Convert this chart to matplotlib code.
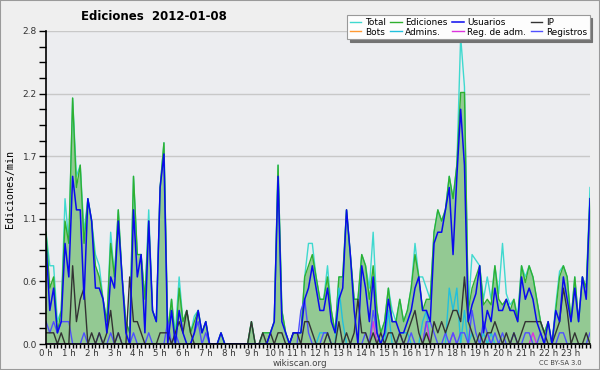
import numpy as np
import matplotlib
matplotlib.use("Agg")
import matplotlib.pyplot as plt
from matplotlib.patches import Rectangle
from matplotlib.ticker import FixedLocator, MultipleLocator

# 10-minute buckets over the day, edits per minute
hour_labels = ["%d h" % h for h in range(24)]

total = [1.0, 0.7, 0.7, 0.2, 0.3, 1.3, 0.9, 2.2, 1.5, 1.6, 1.0, 1.3,
         1.1, 0.8, 0.7, 0.4, 0.2, 1.0, 0.6, 1.2, 0.6, 0.2, 0.1, 1.5,
         0.8, 0.8, 0.4, 1.2, 0.3, 0.2, 1.4, 1.8, 0.1, 0.4, 0.1, 0.6,
         0.2, 0.3, 0.1, 0.25, 0.3, 0.1, 0.2, 0.0, 0.0, 0.0, 0.1, 0.0,
         0.0, 0.0, 0.0, 0.0, 0.0, 0.0, 0.2, 0.0, 0.0, 0.1, 0.1, 0.1,
         0.2, 1.6, 0.3, 0.1, 0.0, 0.1, 0.1, 0.1, 0.6, 0.9, 0.9, 0.6,
         0.4, 0.4, 0.7, 0.3, 0.1, 0.6, 0.6, 1.2, 0.8, 0.4, 0.4, 0.8,
         0.7, 0.5, 1.0, 0.3, 0.1, 0.2, 0.5, 0.3, 0.2, 0.4, 0.2, 0.3,
         0.5, 0.9, 0.6, 0.6, 0.5, 0.4, 1.0, 1.2, 1.1, 1.2, 1.5, 1.3,
         1.6, 2.75, 2.3, 0.3, 0.8, 0.75, 0.7, 0.4, 0.6, 0.4, 0.7, 0.45,
         0.9, 0.45, 0.35, 0.4, 0.25, 0.7, 0.6, 0.7, 0.6, 0.4, 0.2, 0.1,
         0.2, 0.0, 0.35, 0.65, 0.7, 0.6, 0.2, 0.6, 0.2, 0.6, 0.5, 1.4]

ediciones = [1.0, 0.5, 0.6, 0.1, 0.3, 1.1, 0.9, 2.2, 1.4, 1.6, 0.9, 1.3,
             1.1, 0.7, 0.6, 0.4, 0.2, 0.9, 0.6, 1.2, 0.6, 0.2, 0.1, 1.5,
             0.8, 0.8, 0.4, 1.1, 0.3, 0.2, 1.4, 1.8, 0.1, 0.4, 0.0, 0.5,
             0.2, 0.3, 0.1, 0.2, 0.3, 0.1, 0.2, 0.0, 0.0, 0.0, 0.1, 0.0,
             0.0, 0.0, 0.0, 0.0, 0.0, 0.0, 0.2, 0.0, 0.0, 0.1, 0.1, 0.1,
             0.2, 1.6, 0.3, 0.1, 0.0, 0.1, 0.1, 0.1, 0.6, 0.7, 0.8, 0.6,
             0.4, 0.4, 0.6, 0.3, 0.1, 0.6, 0.6, 1.2, 0.8, 0.4, 0.4, 0.8,
             0.7, 0.4, 0.7, 0.3, 0.1, 0.2, 0.5, 0.2, 0.2, 0.4, 0.2, 0.3,
             0.5, 0.8, 0.6, 0.3, 0.4, 0.4, 1.0, 1.2, 1.1, 1.2, 1.5, 1.3,
             1.6, 2.25, 2.25, 0.3, 0.5, 0.6, 0.7, 0.35, 0.4, 0.35, 0.7, 0.4,
             0.35, 0.4, 0.3, 0.4, 0.2, 0.7, 0.55, 0.7, 0.6, 0.4, 0.2, 0.1,
             0.2, 0.0, 0.3, 0.6, 0.7, 0.6, 0.2, 0.6, 0.2, 0.6, 0.5, 1.3]

usuarios = [0.9, 0.3, 0.5, 0.1, 0.2, 0.9, 0.6, 1.5, 1.2, 1.2, 0.4, 1.3,
            1.1, 0.5, 0.5, 0.4, 0.1, 0.6, 0.5, 1.1, 0.6, 0.1, 0.0, 1.2,
            0.6, 0.8, 0.1, 1.1, 0.3, 0.2, 1.4, 1.7, 0.0, 0.3, 0.0, 0.3,
            0.1, 0.0, 0.0, 0.1, 0.3, 0.1, 0.2, 0.0, 0.0, 0.0, 0.1, 0.0,
            0.0, 0.0, 0.0, 0.0, 0.0, 0.0, 0.0, 0.0, 0.0, 0.0, 0.0, 0.1,
            0.2, 1.5, 0.2, 0.1, 0.0, 0.1, 0.1, 0.1, 0.4, 0.5, 0.7, 0.5,
            0.3, 0.3, 0.5, 0.2, 0.1, 0.4, 0.5, 1.2, 0.8, 0.3, 0.0, 0.7,
            0.5, 0.2, 0.6, 0.1, 0.0, 0.1, 0.4, 0.2, 0.2, 0.1, 0.1, 0.2,
            0.3, 0.5, 0.6, 0.3, 0.3, 0.2, 0.9, 1.0, 1.0, 1.2, 1.4, 0.8,
            1.5, 2.1, 1.6, 0.2, 0.35, 0.45, 0.7, 0.1, 0.3, 0.2, 0.5, 0.3,
            0.3, 0.4, 0.3, 0.3, 0.2, 0.6, 0.4, 0.5, 0.4, 0.2, 0.1, 0.0,
            0.2, 0.0, 0.3, 0.2, 0.6, 0.4, 0.2, 0.5, 0.2, 0.6, 0.4, 1.3]

ip = [0.1, 0.1, 0.1, 0.0, 0.1, 0.0, 0.0, 0.7, 0.2, 0.4, 0.5, 0.0,
      0.1, 0.0, 0.1, 0.0, 0.1, 0.3, 0.0, 0.1, 0.0, 0.0, 0.6, 0.2,
      0.2, 0.1, 0.0, 0.0, 0.0, 0.0, 0.1, 0.1, 0.1, 0.0, 0.1, 0.2,
      0.1, 0.3, 0.1, 0.0, 0.0, 0.0, 0.0, 0.0, 0.0, 0.0, 0.0, 0.0,
      0.0, 0.0, 0.0, 0.0, 0.0, 0.0, 0.2, 0.0, 0.0, 0.1, 0.0, 0.1,
      0.0, 0.1, 0.1, 0.0, 0.0, 0.1, 0.1, 0.0, 0.2, 0.2, 0.1, 0.0,
      0.0, 0.0, 0.1, 0.0, 0.0, 0.2, 0.0, 0.1, 0.0, 0.1, 0.4, 0.1,
      0.1, 0.0, 0.1, 0.0, 0.1, 0.0, 0.1, 0.1, 0.0, 0.1, 0.0, 0.1,
      0.2, 0.3, 0.1, 0.0, 0.1, 0.0, 0.2, 0.1, 0.2, 0.1, 0.2, 0.3,
      0.3, 0.2, 0.6, 0.2, 0.1, 0.0, 0.1, 0.0, 0.1, 0.1, 0.2, 0.1,
      0.0, 0.1, 0.0, 0.1, 0.0, 0.1, 0.2, 0.2, 0.2, 0.2, 0.2, 0.1,
      0.0, 0.0, 0.1, 0.2, 0.5, 0.3, 0.0, 0.1, 0.0, 0.0, 0.1, 0.0]

bots = [0.0] * 144

admins = [0.0, 0.0, 0.0, 0.0, 0.0, 0.0, 0.0, 0.0, 0.0, 0.0, 0.0, 0.0,
          0.0, 0.0, 0.0, 0.0, 0.0, 0.0, 0.0, 0.0, 0.0, 0.0, 0.0, 0.0,
          0.0, 0.0, 0.0, 0.0, 0.0, 0.0, 0.0, 0.0, 0.0, 0.0, 0.0, 0.0,
          0.0, 0.0, 0.0, 0.0, 0.0, 0.0, 0.0, 0.0, 0.0, 0.0, 0.0, 0.0,
          0.0, 0.0, 0.0, 0.0, 0.0, 0.0, 0.0, 0.0, 0.0, 0.0, 0.0, 0.0,
          0.0, 0.0, 0.0, 0.0, 0.0, 0.0, 0.0, 0.0, 0.0, 0.0, 0.0, 0.0,
          0.1, 0.1, 0.1, 0.0, 0.0, 0.5, 0.2, 0.0, 0.0, 0.0, 0.0, 0.0,
          0.0, 0.0, 0.0, 0.0, 0.0, 0.0, 0.3, 0.0, 0.0, 0.1, 0.1, 0.1,
          0.0, 0.0, 0.0, 0.2, 0.3, 0.0, 0.0, 0.0, 0.0, 0.0, 0.5, 0.3,
          0.5, 0.0, 0.3, 0.0, 0.1, 0.0, 0.0, 0.1, 0.0, 0.1, 0.0, 0.0,
          0.0, 0.0, 0.0, 0.0, 0.0, 0.0, 0.0, 0.0, 0.0, 0.0, 0.0, 0.0,
          0.0, 0.0, 0.0, 0.0, 0.0, 0.0, 0.0, 0.0, 0.0, 0.0, 0.0, 0.0]

reg_adm = [0.0] * 86 + [0.2] + [0.0] * 13 + [0.2] + [0.0] * 6 + [0.1] + \
          [0.0] * 8 + [0.1] + [0.0] * 11 + [0.1] + [0.0] * 15

registros = [0.2, 0.1, 0.2, 0.1, 0.2, 0.2, 0.2, 0.0, 0.0, 0.0, 0.1, 0.0,
             0.0, 0.0, 0.1, 0.0, 0.0, 0.1, 0.0, 0.1, 0.0, 0.0, 0.0, 0.1,
             0.0, 0.0, 0.0, 0.1, 0.0, 0.0, 0.0, 0.0, 0.2, 0.0, 0.1, 0.0,
             0.0, 0.0, 0.0, 0.1, 0.2, 0.0, 0.1, 0.0, 0.0, 0.0, 0.0, 0.0,
             0.0, 0.0, 0.0, 0.0, 0.0, 0.0, 0.0, 0.0, 0.0, 0.0, 0.0, 0.0,
             0.0, 0.0, 0.0, 0.0, 0.0, 0.0, 0.0, 0.3, 0.4, 0.1, 0.0, 0.0,
             0.0, 0.1, 0.1, 0.0, 0.0, 0.0, 0.0, 0.0, 0.0, 0.0, 0.0, 0.0,
             0.1, 0.0, 0.3, 0.1, 0.0, 0.0, 0.0, 0.0, 0.0, 0.1, 0.0, 0.0,
             0.1, 0.0, 0.0, 0.0, 0.2, 0.2, 0.1, 0.0, 0.0, 0.1, 0.0, 0.1,
             0.0, 0.1, 0.1, 0.0, 0.3, 0.1, 0.0, 0.2, 0.1, 0.0, 0.1, 0.0,
             0.1, 0.0, 0.0, 0.1, 0.0, 0.0, 0.1, 0.1, 0.0, 0.0, 0.1, 0.0,
             0.0, 0.0, 0.0, 0.1, 0.1, 0.0, 0.0, 0.0, 0.0, 0.0, 0.0, 0.1]

x = np.arange(len(ediciones))

fig = plt.figure(figsize=(6, 3.7), dpi=100, facecolor='#efefef')
ax = fig.add_axes([46/600, 1 - 344/370, 544/600, 313/370])
ax.set_facecolor('#ecedf0')

# filled edits area underneath everything
ax.fill_between(x, ediciones, 0, color='#93c993', lw=0, zorder=1)

h_total, = ax.plot(x, total, color='#3fd9cf', lw=1.0, zorder=2, label='Total')
h_bots, = ax.plot(x, bots, color='#ff9933', lw=1.0, zorder=2, label='Bots')
h_edic, = ax.plot(x, ediciones, color='#2fb02f', lw=1.0, zorder=3, label='Ediciones')
h_adm, = ax.plot(x, admins, color='#22c0dd', lw=1.0, zorder=4, label='Admins.')
h_regadm, = ax.plot(x, reg_adm, color='#dd33dd', lw=1.0, zorder=4, label='Reg. de adm.')
h_reg, = ax.plot(x, registros, color='#5050ff', lw=1.0, zorder=4, label='Registros')
h_ip, = ax.plot(x, ip, color='#333333', lw=1.0, zorder=5, label='IP')
h_usu, = ax.plot(x, usuarios, color='#0a0aee', lw=1.1, zorder=6, label='Usuarios')

ax.set_xlim(0, len(x) - 1)
ax.set_ylim(0, 2.8)

yt = np.linspace(0, 2.8, 6)
ax.yaxis.set_major_locator(FixedLocator(yt))
ax.yaxis.set_minor_locator(MultipleLocator(0.14))
ax.set_yticklabels(['%.1f' % v for v in yt])
ax.xaxis.set_major_locator(FixedLocator(np.arange(0, 144, 6)))
ax.xaxis.set_minor_locator(MultipleLocator(1))
ax.set_xticklabels(hour_labels)

ax.tick_params(axis='both', which='both', direction='out', colors='black',
               labelcolor='#333333', width=1)
ax.tick_params(axis='y', which='both', length=5, labelsize=6.5, pad=1.5)
ax.tick_params(axis='x', which='both', length=2.8, labelsize=6.2, pad=0.5)

ax.grid(axis='y', which='major', color='#c8c8c8', lw=1)
ax.set_axisbelow(True)
for s in ['top', 'right']:
    ax.spines[s].set_visible(False)
for s in ['left', 'bottom']:
    ax.spines[s].set_linewidth(1.2)
    ax.spines[s].set_zorder(10)

fig.text(0.257, 1 - 16/370, 'Ediciones  2012-01-08', ha='center', va='center',
         fontsize=8.5, fontweight='bold')
fig.text(0.017, 1 - 189/370, 'Ediciones/min', rotation=90, ha='center', va='center',
         family='DejaVu Sans Mono', fontsize=7.2)
fig.text(0.5, 1 - 363/370, 'wikiscan.org', ha='center', va='center',
         fontsize=6.3, color='#444444')
fig.text(560/600, 1 - 363/370, 'CC BY-SA 3.0', ha='center', va='center',
         fontsize=4.8, color='#444444')

handles = [h_total, h_bots, h_edic, h_adm, h_usu, h_regadm, h_ip, h_reg]
leg = fig.legend(handles=handles, labels=[h.get_label() for h in handles],
                 ncol=4, loc='upper right', bbox_to_anchor=(594/600, 1 - 11/370),
                 fontsize=6.4, handlelength=1.3, handletextpad=0.4,
                 columnspacing=0.5, labelspacing=0.05, borderpad=0.3,
                 fancybox=False, framealpha=1, facecolor='#fdfdfd',
                 edgecolor='#999999', shadow={'color': '0.45', 'alpha': 1})
leg.get_frame().set_linewidth(0.8)

fig.patches.append(Rectangle((0, 0), 1, 1, transform=fig.transFigure, fill=False,
                             edgecolor='#9a9a9a', lw=1.5))

fig.savefig('out.png', dpi=100, facecolor=fig.get_facecolor())
